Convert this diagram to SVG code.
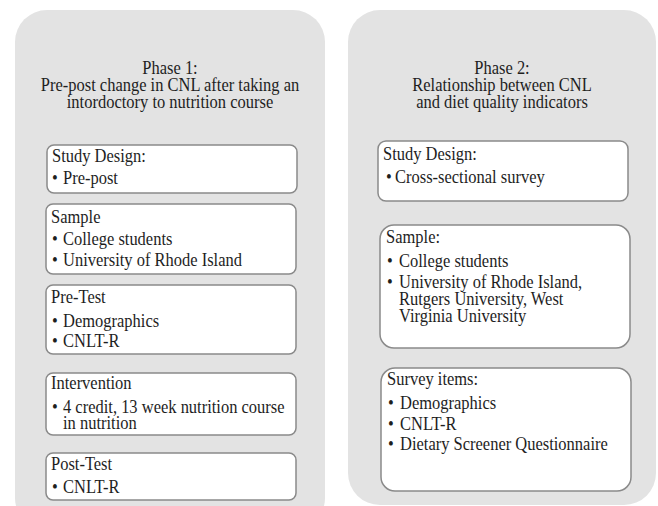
<svg xmlns="http://www.w3.org/2000/svg" width="658" height="506" viewBox="0 0 658 506">
<style>
.panel{fill:#e3e3e3;stroke:none}
.box{fill:#fff;stroke:#8a8a8a;stroke-width:1.5}
text{font-family:"Liberation Serif","Times New Roman",serif;font-size:16.5px;fill:#1e1e1e}
.t{text-anchor:middle}
</style>
<rect width="658" height="506" fill="#fff"/>
<g id="phase1">
<rect class="panel" x="15" y="10" width="310" height="520" rx="32"/>
<text class="t" transform="translate(170,74) scale(1,1.12)">Phase 1:</text>
<text class="t" transform="translate(170,91) scale(1,1.12)">Pre-post change in CNL after taking an</text>
<text class="t" transform="translate(170,108) scale(1,1.12)">intordoctory to nutrition course</text>
</g>
<g id="phase2">
<rect class="panel" x="348" y="10" width="308" height="495" rx="32"/>
<text class="t" transform="translate(502,74) scale(1,1.12)">Phase 2:</text>
<text class="t" transform="translate(502,91) scale(1,1.12)">Relationship between CNL</text>
<text class="t" transform="translate(502,108) scale(1,1.12)">and diet quality indicators</text>
</g>
<g id="p1-design">
<rect class="box" x="47" y="145" width="250" height="48" rx="7"/>
<text transform="translate(52,162) scale(1,1.12)">Study Design:</text>
<text transform="translate(52,184) scale(1,1.12)">•</text><text transform="translate(63,184) scale(1,1.12)">Pre-post</text>
</g>
<g id="p1-sample">
<rect class="box" x="46" y="204" width="250" height="70" rx="7"/>
<text transform="translate(51,223) scale(1,1.12)">Sample</text>
<text transform="translate(52,245) scale(1,1.12)">•</text><text transform="translate(63,245) scale(1,1.12)">College students</text>
<text transform="translate(52,266) scale(1,1.12)">•</text><text transform="translate(63,266) scale(1,1.12)">University of Rhode Island</text>
</g>
<g id="p1-pretest">
<rect class="box" x="46" y="285" width="250" height="69" rx="7"/>
<text transform="translate(51,303) scale(1,1.12)">Pre-Test</text>
<text transform="translate(52,327) scale(1,1.12)">•</text><text transform="translate(63,327) scale(1,1.12)">Demographics</text>
<text transform="translate(52,347) scale(1,1.12)">•</text><text transform="translate(63,347) scale(1,1.12)">CNLT-R</text>
</g>
<g id="p1-intervention">
<rect class="box" x="46" y="373" width="250" height="62" rx="7"/>
<text transform="translate(51,389) scale(1,1.12)">Intervention</text>
<text transform="translate(52,413) scale(1,1.12)">•</text><text transform="translate(63,413) scale(1,1.12)">4 credit, 13 week nutrition course</text>
<text transform="translate(63,429) scale(1,1.12)">in nutrition</text>
</g>
<g id="p1-posttest">
<rect class="box" x="46" y="453" width="250" height="47" rx="7"/>
<text transform="translate(51,470) scale(1,1.12)">Post-Test</text>
<text transform="translate(52,493) scale(1,1.12)">•</text><text transform="translate(63,493) scale(1,1.12)">CNLT-R</text>
</g>
<g id="p2-design">
<rect class="box" x="378" y="141" width="250" height="60" rx="8"/>
<text transform="translate(383,160) scale(1,1.12)">Study Design:</text>
<text transform="translate(386,183) scale(1,1.12)">•</text><text transform="translate(395,183) scale(1,1.12)">Cross-sectional survey</text>
</g>
<g id="p2-sample">
<rect class="box" x="380" y="225" width="250" height="123" rx="14"/>
<text transform="translate(386,243) scale(1,1.12)">Sample:</text>
<text transform="translate(387,267) scale(1,1.12)">•</text><text transform="translate(399,267) scale(1,1.12)">College students</text>
<text transform="translate(387,288) scale(1,1.12)">•</text><text transform="translate(399,288) scale(1,1.12)">University of Rhode Island,</text>
<text transform="translate(399,305) scale(1,1.12)">Rutgers University, West</text>
<text transform="translate(399,322) scale(1,1.12)">Virginia University</text>
</g>
<g id="p2-survey">
<rect class="box" x="381" y="368" width="250" height="123" rx="14"/>
<text transform="translate(387,385) scale(1,1.12)">Survey items:</text>
<text transform="translate(388,409) scale(1,1.12)">•</text><text transform="translate(400,409) scale(1,1.12)">Demographics</text>
<text transform="translate(388,430) scale(1,1.12)">•</text><text transform="translate(400,430) scale(1,1.12)">CNLT-R</text>
<text transform="translate(388,450) scale(1,1.12)">•</text><text transform="translate(400,450) scale(1,1.12)">Dietary Screener Questionnaire</text>
</g>
<g id="connectors"/>
</svg>
